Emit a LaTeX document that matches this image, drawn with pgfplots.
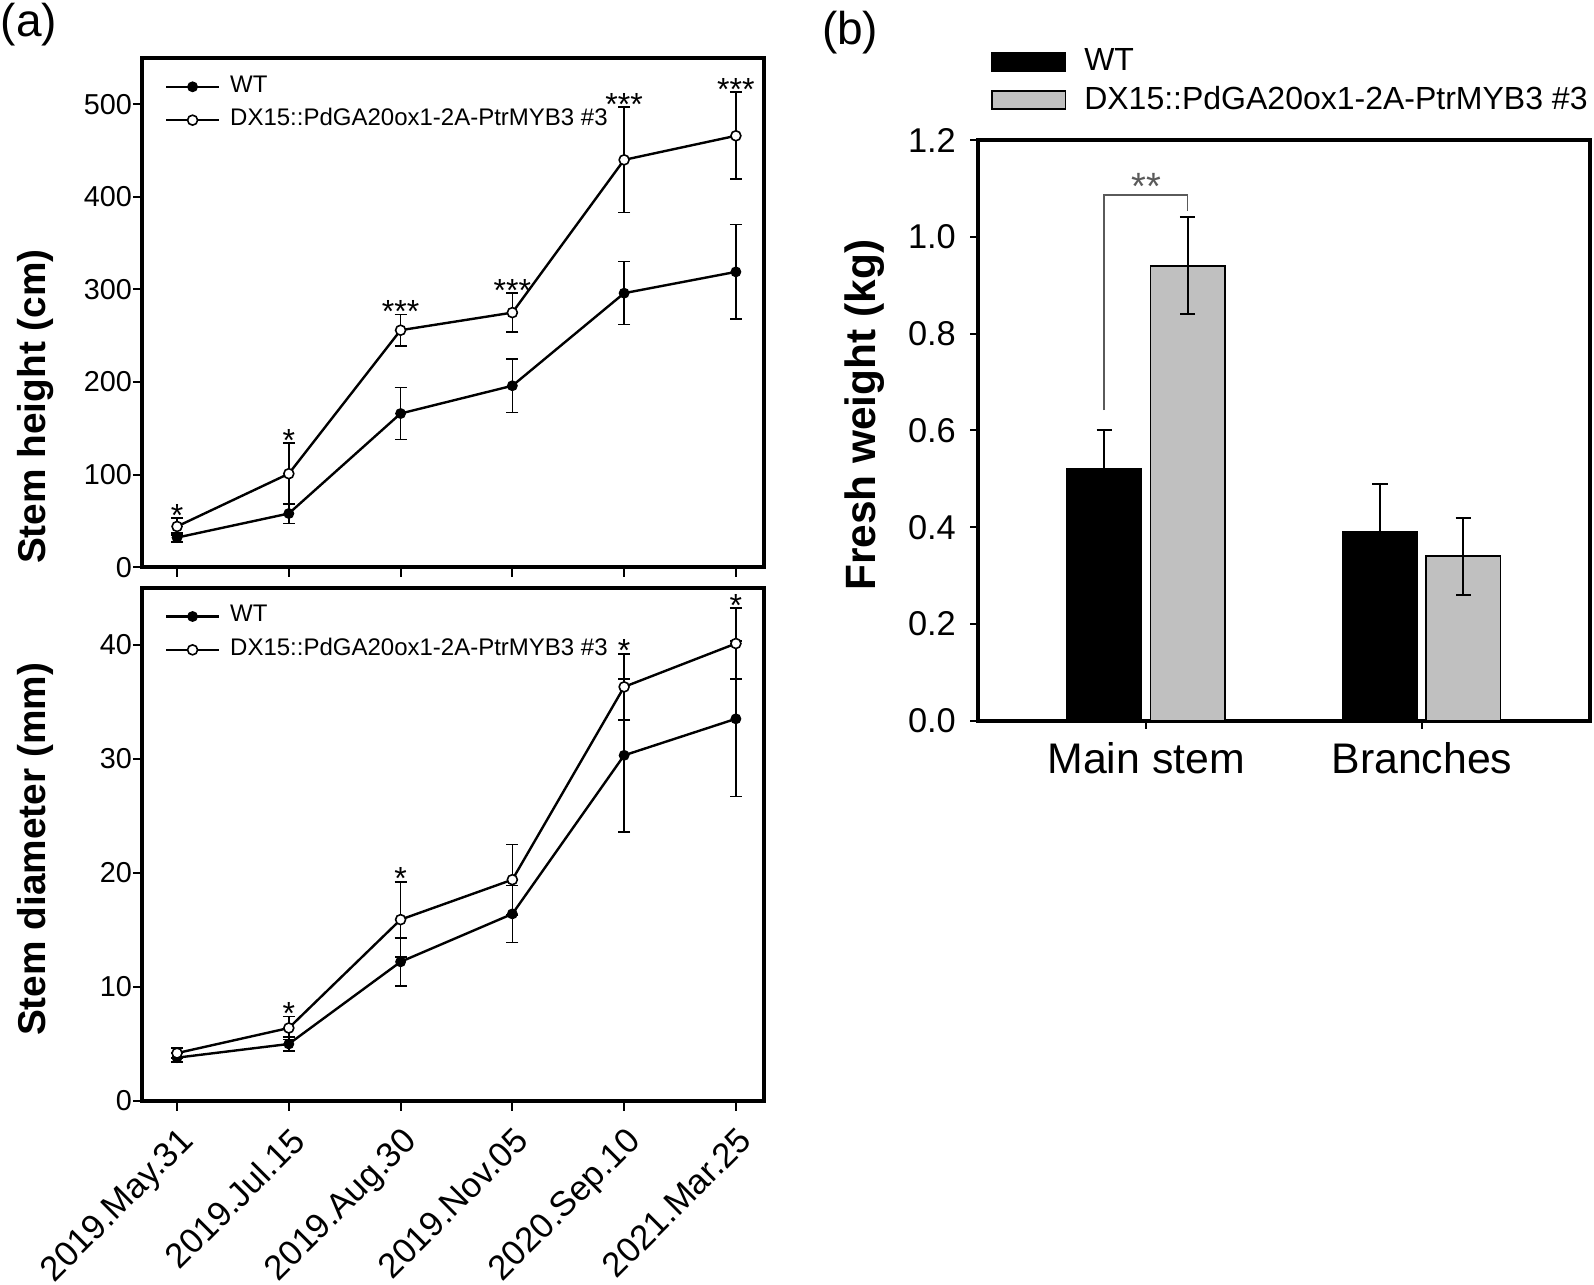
\documentclass[border=0pt]{standalone}
\usepackage{pgfplots}
\pgfplotsset{compat=1.18}
\usepackage{fontspec}
\setmainfont{Liberation Sans}
\definecolor{barGray}{RGB}{192,192,192}
\definecolor{starGray}{RGB}{90,90,90}
\pgfplotsset{
  panelA/.style={
    scale only axis, width=155.5pt,
    xmin=-0.31, xmax=5.255,
    xtick={0,...,5},
    axis line style={line width=1pt},
    every tick/.style={black, line width=0.5pt},
    tick align=outside, major tick length=2.4pt,
    xtick pos=bottom, ytick pos=left,
    tick label style={font=\fontsize{7.2}{8}\selectfont},
    yticklabel style={xshift=3.3pt},
    /pgf/number format/assume math mode=true,
    legend style={draw=none, fill=none, font=\fontsize{6}{7}\selectfont, inner sep=0pt,
      row sep=0.6pt, nodes={inner sep=1pt},
      /tikz/every odd column/.append style={column sep=1.5pt},
      at={(axis description cs:0.035,0.975)}, anchor=north west},
    legend cell align=left,
    legend image code/.code={\draw[#1, mark repeat=2, mark phase=2] plot coordinates {(0pt,0pt)(6.6pt,0pt)(13.2pt,0pt)};},
  },
  wt/.style={black, line width=0.6pt, mark=*, mark size=1.15pt, mark options={fill=black, line width=0.4pt, solid}},
  dx/.style={black, line width=0.6pt, mark=*, mark size=1.25pt, mark options={fill=white, line width=0.4pt, solid}},
  errs/.style={error bars/.cd, y dir=both, y explicit,
    error mark options={rotate=90, mark size=1.5pt, line width=0.4pt, black},
    error bar style={line width=0.4pt, black}},
  errsB/.style={error bars/.cd, y dir=both, y explicit,
    error mark options={rotate=90, mark size=1.9pt, line width=0.5pt, black},
    error bar style={line width=0.5pt, black}},
}
\tikzset{sigstar/.style={font=\fontsize{8}{9}\selectfont, anchor=base, inner sep=0pt, yshift=-2pt}}
\begin{document}
\begin{tikzpicture}
\path[use as bounding box] (0pt,0pt) rectangle (398.5pt,-321pt);

\node[anchor=north west, inner sep=0pt, font=\fontsize{11.5}{13}\selectfont] at (0pt,-0.5pt) {(a)};
\node[anchor=north west, inner sep=0pt, font=\fontsize{11.5}{13}\selectfont] at (205.3pt,-2.5pt) {(b)};

% ---------- (a) top: stem height ----------
\begin{axis}[panelA,
  at={(35.6pt,-141.8pt)}, anchor=south west, height=127.3pt,
  ymin=0, ymax=550, ytick={0,100,200,300,400,500},
  xticklabels={},
  ylabel={Stem height (cm)},
  ylabel style={font=\bfseries\fontsize{9.7}{11}\selectfont, at={(axis description cs:-0.1715,0.3155)}, anchor=center},
]
\addplot[wt, errs] coordinates {
 (0,32) +- (0,5)
 (1,58) +- (0,11)
 (2,166) +- (0,28)
 (3,196) +- (0,29)
 (4,296) +- (0,34)
 (5,319) +- (0,51)
};
\addlegendentry{WT}
\addplot[dx, errs] coordinates {
 (0,44) +- (0,9)
 (1,101) +- (0,33)
 (2,256) +- (0,17)
 (3,275) +- (0,21)
 (4,440) +- (0,57)
 (5,466) +- (0,47)
};
\addlegendentry{DX15::PdGA20ox1-2A-PtrMYB3 \#3}
\node[sigstar] at (axis cs:0,53) {*};
\node[sigstar] at (axis cs:1,134) {*};
\node[sigstar] at (axis cs:2,273) {***};
\node[sigstar] at (axis cs:3,296) {***};
\node[sigstar] at (axis cs:4,497) {***};
\node[sigstar] at (axis cs:5,513) {***};
\end{axis}

% ---------- (a) bottom: stem diameter ----------
\begin{axis}[panelA,
  at={(35.6pt,-275.25pt)}, anchor=south west, height=128.35pt,
  ymin=0, ymax=45, ytick={0,10,20,30,40},
  xticklabels={2019.May.31,2019.Jul.15,2019.Aug.30,2019.Nov.05,2020.Sep.10,2021.Mar.25},
  xticklabel style={rotate=45, anchor=north east, font=\fontsize{8.7}{10}\selectfont, xshift=1pt, yshift=0.8pt},
  ylabel={Stem diameter (mm)},
  ylabel style={font=\bfseries\fontsize{9.7}{11}\selectfont, at={(axis description cs:-0.1715,0.49)}, anchor=center},
]
\addplot[wt, errs] coordinates {
 (0,3.8) +- (0,0.4)
 (1,5.0) +- (0,0.6)
 (2,12.2) +- (0,2.1)
 (3,16.4) +- (0,2.5)
 (4,30.3) +- (0,6.7)
 (5,33.5) +- (0,6.8)
};
\addlegendentry{WT}
\addplot[dx, errs] coordinates {
 (0,4.2) +- (0,0.45)
 (1,6.4) +- (0,1.0)
 (2,15.9) +- (0,3.3)
 (3,19.4) +- (0,3.1)
 (4,36.3) +- (0,2.9)
 (5,40.1) +- (0,3.1)
};
\addlegendentry{DX15::PdGA20ox1-2A-PtrMYB3 \#3}
\node[sigstar] at (axis cs:1,7.4) {*};
\node[sigstar] at (axis cs:2,19.2) {*};
\node[sigstar] at (axis cs:4,39.2) {*};
\node[sigstar] at (axis cs:5,43.2) {*};
\end{axis}

% ---------- (b) fresh weight ----------
\begin{axis}[
  at={(244.5pt,-180.2pt)}, anchor=south west,
  scale only axis, width=153pt, height=145.2pt,
  xmin=-0.61, xmax=1.61, ymin=0, ymax=1.2,
  xtick={0,1}, xticklabels={Main stem,Branches},
  ytick={0,0.2,0.4,0.6,0.8,1.0,1.2},
  /pgf/number format/assume math mode=true,
  axis line style={line width=1pt},
  every tick/.style={black, line width=0.5pt},
  tick align=outside, major tick length=2pt,
  xtick pos=bottom, ytick pos=left,
  yticklabel style={font=\fontsize{8.6}{10}\selectfont, /pgf/number format/fixed, /pgf/number format/fixed zerofill, /pgf/number format/precision=1},
  xticklabel style={font=\fontsize{10.7}{12}\selectfont},
  ylabel={Fresh weight (kg)},
  ylabel style={font=\bfseries\fontsize{10.6}{12}\selectfont, at={(axis description cs:-0.186,0.526)}, anchor=center},
  legend style={draw=none, fill=none, font=\fontsize{8}{9.6}\selectfont, inner sep=0pt,
    row sep=0.4pt, nodes={inner sep=1pt},
    /tikz/every odd column/.append style={column sep=3.5pt},
    at={(axis description cs:0.02,1.165)}, anchor=north west},
  legend cell align=left,
]
\addplot[ybar, bar width=0.27, bar shift=0pt, fill=black, draw=black, line width=0.4pt,
  legend image code/.code={\draw[fill=black, draw=black, line width=0.4pt] (0pt,-2pt) rectangle (18.4pt,2.6pt);},
  errsB] coordinates {
 (-0.152,0.52) +- (0,0.08)
 (0.848,0.39) +- (0,0.10)
};
\addlegendentry{WT}
\addplot[ybar, bar width=0.27, bar shift=0pt, fill=barGray, draw=black, line width=0.4pt,
  legend image code/.code={\draw[fill=barGray, draw=black, line width=0.4pt] (0pt,-2pt) rectangle (18.4pt,2.6pt);},
  errsB] coordinates {
 (0.15,0.94) +- (0,0.10)
 (1.15,0.34) +- (0,0.08)
};
\addlegendentry{DX15::PdGA20ox1-2A-PtrMYB3 \#3}
\draw[starGray, line width=0.4pt] (axis cs:-0.152,0.642) |- (axis cs:0.15,1.086) -- (axis cs:0.15,1.054);
\node[font=\fontsize{9.5}{10}\selectfont, text=starGray, anchor=base, inner sep=0pt] at (axis cs:0,1.078) {**};
\end{axis}
\end{tikzpicture}
\end{document}
